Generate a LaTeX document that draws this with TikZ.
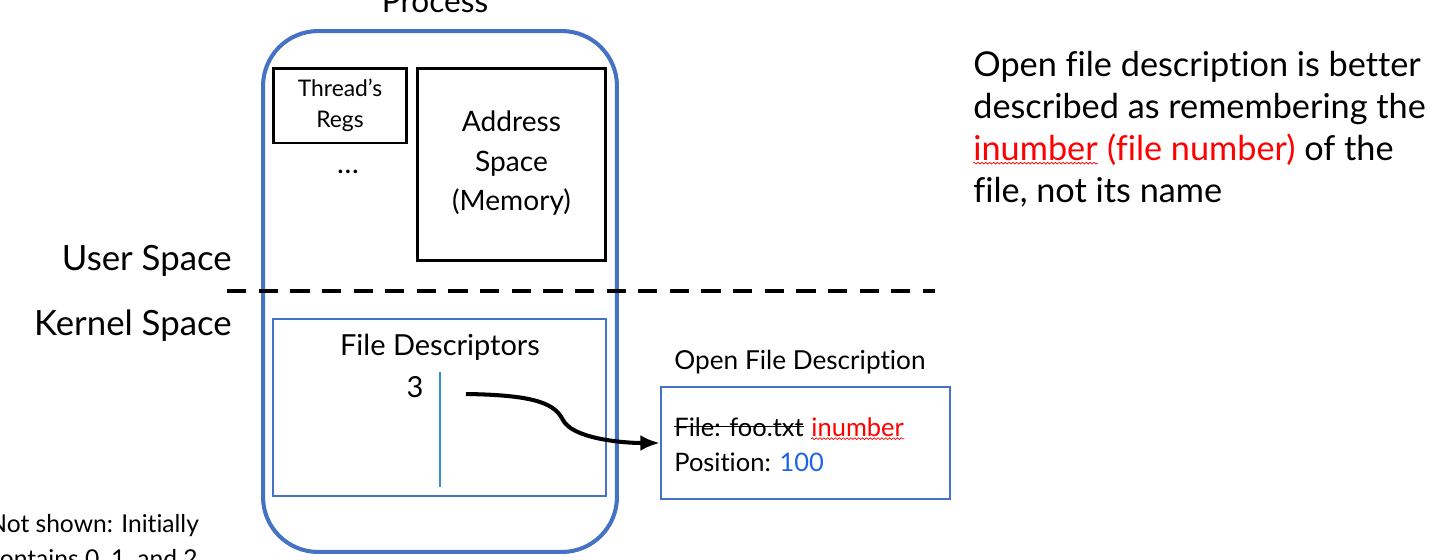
\documentclass[tikz,border=0pt]{standalone}
\usepackage{fontspec}
\setmainfont{Lato}[Ligatures=NoCommon]
\usepackage{xcolor}
\usetikzlibrary{decorations.pathmorphing, arrows.meta}
\definecolor{procblue}{RGB}{68,114,196}
\definecolor{numblue}{RGB}{30,100,230}
\definecolor{wavered}{RGB}{255,0,0}

\begin{document}
\begin{tikzpicture}[x=0.02cm, y=-0.02cm,
		blackbox/.style={draw, line width=1.7pt, align=center, inner sep=0pt},
		bluebox/.style={draw=procblue, line width=1.2pt, inner sep=0pt},
		label/.style={inner sep=0pt, font=\fontsize{16.5}{19}\selectfont},
		notetext/.style={label, font=\fontsize{19.5}{22}\selectfont, anchor=base west},
		squiggle/.style={wavered, line width=0.4pt, decorate, decoration={snake, amplitude=0.5pt, segment length=2.2pt}}
	]
	\clip (0,0) rectangle (1456,559);
	\useasboundingbox (0,0) rectangle (1456,559);

	% process
	\node[draw=procblue, line width=2.3pt, rounded corners=1.1cm, minimum width=7.08cm, minimum height=10.42cm] (proc) at (440,291.5) {};
	\node[label, font=\fontsize{18}{20}\selectfont, anchor=base] (proclabel) at (435,12) {Process};

	\node[blackbox, minimum width=2.68cm, minimum height=1.5cm, font=\fontsize{13}{17.5}\selectfont] (regs) at (340,105.5) {Thread's\\Regs};
	\node[label] (dots) at (348,172) {\ldots};
	\node[blackbox, minimum width=3.78cm, minimum height=3.86cm, font=\fontsize{16}{22.5}\selectfont, text depth=4pt] (addr) at (511.5,164.5) {Address\\Space\\(Memory)};

	% user / kernel
	\coordinate (dashl) at (227,291);
	\coordinate (dashr) at (935,291);
	\draw[line width=2.3pt, dash pattern=on 11pt off 7pt] (dashl) -- (dashr);
	\node[label, font=\fontsize{19.8}{22}\selectfont, anchor=base east] (user) at (232,270) {User Space};
	\node[label, font=\fontsize{19.8}{22}\selectfont, anchor=base east] (kernel) at (232,335) {Kernel Space};

	% file descriptors
	\node[bluebox, minimum width=6.66cm, minimum height=3.54cm] (fd) at (439.5,407.5) {};
	\node[label, anchor=base] (fdlabel) at (440,355) {File Descriptors};
	\node[label, anchor=base] (three) at (415,397) {3};
	\coordinate (vtop) at (440,372);
	\coordinate (vbot) at (440,487);
	\draw[procblue!80!cyan, line width=0.8pt] (vtop) -- (vbot);

	% open file description
	\node[bluebox, line width=1.4pt, minimum width=5.78cm, minimum height=2.24cm] (ofd) at (805.5,443) {};
	\node[label, font=\fontsize{14.9}{17}\selectfont, anchor=base] (ofdlabel) at (800,369) {Open File Description};
	\node[label, font=\fontsize{14.5}{17}\selectfont, anchor=base west] (ofdold) at (674,436) {File: foo.txt};
	\node[label, font=\fontsize{14.5}{17}\selectfont, anchor=base west, xshift=4pt, text=wavered] (ofdnew) at (ofdold.base east) {inumber};
	\node[label, font=\fontsize{14.5}{17}\selectfont, anchor=base west] (ofdpos) at (674,471) {Position: \textcolor{numblue}{100}};
	\draw[line width=0.7pt] (ofdold.west) -- (ofdold.east);
	\draw[squiggle] ([yshift=-1.5pt]ofdnew.base west) -- ([yshift=-1.5pt]ofdnew.base east);

	\coordinate (fdptr) at (466,394);
	\draw[line width=2.3pt, -{Latex[length=11pt, width=9pt]}] (fdptr) .. controls (540,395) and (555,405) .. (563,420) .. controls (572,438) and (620,443) .. (ofd.west);

	% note
	\node[notetext] (note1) at (973,76) {Open file description is better};
	\node[notetext] (note2) at (973,118) {described as remembering the};
	\node[notetext, text=wavered] (note3) at (973,160) {inumber};
	\node[notetext] (note3b) at (note3.base east) {\textcolor{wavered}{\ (file number)} of the};
	\node[notetext] (note4) at (973,202) {file, not its name};
	\draw[squiggle] ([yshift=-1.8pt]note3.base west) -- ([yshift=-1.8pt]note3.base east);

	\node[label, font=\fontsize{14}{20}\selectfont, align=left, anchor=north west] (notshown) at (-12,514) {Not shown: Initially\\contains 0, 1, and 2};
\end{tikzpicture}
\end{document}
